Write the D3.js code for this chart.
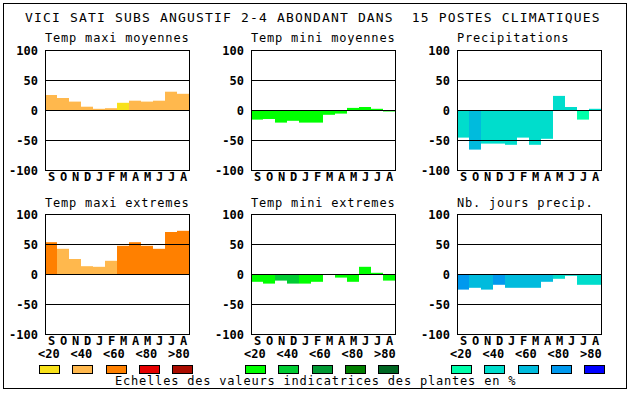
<!DOCTYPE html>
<html><head><meta charset="utf-8">
<script src="https://cdn.jsdelivr.net/npm/d3@7"></script>
<style>
html,body{margin:0;padding:0;background:#fff;}
svg{display:block;}
</style></head>
<body>
<svg id="c" width="630" height="394"></svg>
<script>
// ---- data ----
const titleText = "VICI SATI SUBS ANGUSTIF 2-4 ABONDANT DANS  15 POSTES CLIMATIQUES";
const footText = "Echelles des valeurs indicatrices des plantes en %";
const months = ["S","O","N","D","J","F","M","A","M","J","J","A"];
const yTicks = [100, 50, 0, -50, -100];
const legendLabels = ["<20","<40","<60","<80",">80"];
const warmColors = ["#f8e11a","#ffb84d","#ff8000","#e60000","#aa0c00"];
const greenColors = ["#00ff00","#00cc33","#009933","#007f00","#006622"];
const blueColors = ["#00ffaa","#00ddcc","#00bbdd","#0099ee","#0000ff"];

const panelTitles = ["Temp maxi moyennes","Temp mini moyennes","Precipitations",
                     "Temp maxi extremes","Temp mini extremes","Nb. jours precip."];
const tmaxMoy    = [25, 20, 14, 5.5, 2, 3, 12, 15.5, 14, 15.5, 30.5, 27];
const tmaxMoyCls = [1, 1, 1, 1, 1, 1, 0, 1, 1, 1, 1, 1];
const tminMoy    = [-16, -15, -21, -18, -21, -21, -8, -6, 3.5, 5, 2, -2.5];
const tminMoyCls = [0, 0, 0, 0, 0, 0, 0, 0, 0, 0, 0, 0];
const precip     = [-46, -66, -56, -56, -58, -46, -58, -48, 23.5, 5, -16, 2];
const precipCls  = [1, 2, 1, 1, 1, 1, 1, 1, 1, 1, 0, 1];
const tmaxExt    = [53, 42, 25, 13, 12, 22, 47, 53, 47, 42, 70, 72];
const tmaxExtCls = [2, 1, 1, 1, 1, 1, 2, 2, 2, 2, 2, 2];
const tminExt    = [-13, -16, -11, -16, -16, -13, 0, -6, -13, 12, 2, -11];
const tminExtCls = [0, 0, 1, 1, 0, 0, 0, 0, 0, 0, 0, 0];
const nbJours    = [-26, -23, -26, -18, -23, -23, -23, -13, -8, -3, -18, -18];
const nbJoursCls = [3, 2, 2, 3, 2, 2, 2, 2, 1, 1, 1, 1];

// ---- layout ----
const svg = d3.select("#c");
const MONO = "'DejaVu Sans Mono', 'Liberation Mono', monospace";
const panelLefts = [45, 251, 457];
const rowTops = [50, 214];
const PW = 144, PH = 120;

svg.append("rect").attr("x", 3.5).attr("y", 3.5).attr("width", 623).attr("height", 385)
  .attr("fill", "none").attr("stroke", "#000").attr("stroke-width", 1);

svg.append("text").attr("x", 25).attr("y", 22).text(titleText)
  .attr("font-family", MONO).attr("font-size", 13).attr("letter-spacing", "1.17px")
  .attr("fill", "#000").style("white-space", "pre").attr("xml:space", "preserve");

const panels = [
  {vals: tmaxMoy, cls: tmaxMoyCls, pal: warmColors},
  {vals: tminMoy, cls: tminMoyCls, pal: greenColors},
  {vals: precip, cls: precipCls, pal: blueColors},
  {vals: tmaxExt, cls: tmaxExtCls, pal: warmColors},
  {vals: tminExt, cls: tminExtCls, pal: greenColors},
  {vals: nbJours, cls: nbJoursCls, pal: blueColors}
];

panels.forEach((p, k) => {
  const col = k % 3, row = Math.floor(k / 3);
  const left = panelLefts[col], top = rowTops[row];
  const x = d3.scaleBand().domain(d3.range(months.length)).range([left, left + PW]).padding(0);
  const y = d3.scaleLinear().domain([-100, 100]).range([top + PH, top]);
  const g = svg.append("g");

  g.append("text").attr("x", left).attr("y", row === 0 ? 42 : 207).text(panelTitles[k])
    .attr("font-family", MONO).attr("font-size", 12).attr("letter-spacing", "0.8px").attr("fill", "#000");

  // bars
  g.selectAll("rect.bar").data(p.vals).enter().append("rect")
    .attr("x", (d, i) => x(i))
    .attr("width", x.bandwidth())
    .attr("y", d => y(Math.max(0, d)))
    .attr("height", d => Math.abs(y(d) - y(0)))
    .attr("fill", (d, i) => p.pal[p.cls[i]]);

  // grid lines
  g.selectAll("line.grid").data([50, 0, -50]).enter().append("line")
    .attr("x1", left).attr("x2", left + PW)
    .attr("y1", d => Math.round(y(d)) + 0.5).attr("y2", d => Math.round(y(d)) + 0.5)
    .attr("stroke", "#000").attr("stroke-width", 1);

  g.append("rect").attr("x", left + 0.5).attr("y", top + 0.5).attr("width", PW).attr("height", PH)
    .attr("fill", "none").attr("stroke", "#000").attr("stroke-width", 1);

  // y tick labels
  g.selectAll("text.yt").data(yTicks).enter().append("text")
    .attr("x", left - 7).attr("y", d => y(d) + 4.5)
    .attr("text-anchor", "end").text(d => d)
    .attr("font-family", MONO).attr("font-weight", "bold").attr("font-size", 12)
    .attr("fill", "#000");

  // month labels
  g.selectAll("text.mt").data(months).enter().append("text")
    .attr("x", (d, i) => x(i) + x.bandwidth() / 2 + 0.5).attr("y", top + PH + 10.5)
    .attr("text-anchor", "middle").text(d => d)
    .attr("font-family", MONO).attr("font-weight", "bold").attr("font-size", 12)
    .attr("fill", "#000");
});

// legend
const palettes = [warmColors, greenColors, blueColors];
panelLefts.forEach((left, c) => {
  const lg = svg.append("g");
  lg.selectAll("text").data(legendLabels).enter().append("text")
    .attr("x", (d, i) => left - 7 + i * 32.5).attr("y", 357.5)
    .text(d => d)
    .attr("font-family", MONO).attr("font-weight", "bold").attr("font-size", 12)
    .attr("fill", "#000");
  lg.selectAll("rect").data(palettes[c]).enter().append("rect")
    .attr("x", (d, i) => left - 6 + Math.round(i * 33.3) + 0.5).attr("y", 365.5)
    .attr("width", 20).attr("height", 8)
    .attr("fill", d => d).attr("stroke", "#000").attr("stroke-width", 1);
});

svg.append("text").attr("x", 115).attr("y", 385).text(footText)
  .attr("font-family", MONO).attr("font-size", 12).attr("letter-spacing", "0.8px").attr("fill", "#000");
</script>
</body></html>
